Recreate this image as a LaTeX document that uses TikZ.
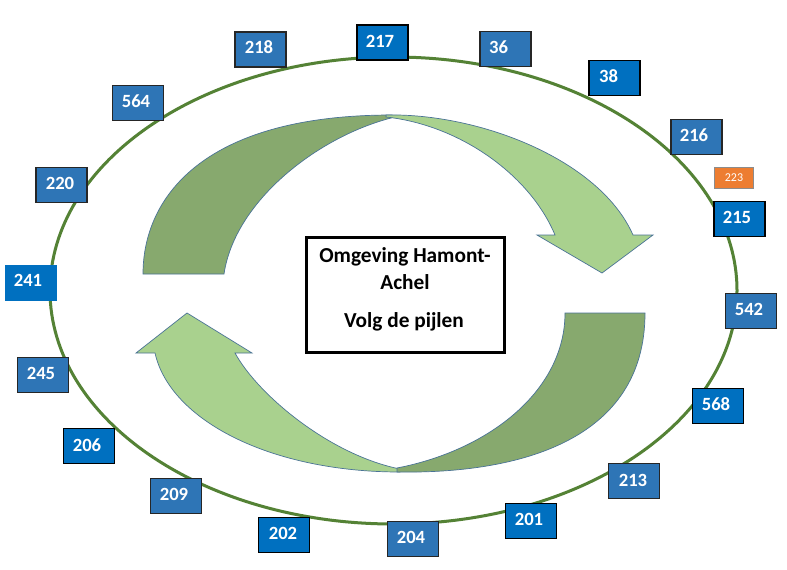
\documentclass[tikz,border=0pt]{standalone}
\usepackage{fontspec}
\setmainfont{Carlito}
\definecolor{ringgreen}{HTML}{548235}
\definecolor{boxa}{HTML}{2E75B6}
\definecolor{boxb}{HTML}{0070C0}
\definecolor{orng}{HTML}{ED7D31}
\definecolor{darkband}{HTML}{87A96E}
\definecolor{lightband}{HTML}{A9D18E}
\definecolor{bandline}{HTML}{4A7396}
\newcommand{\nbox}[7]{\node[#1, label={[numtxt, xshift=#6pt, yshift=#7pt]center:#5}] (#2) at (#3,#4) {};}
\begin{document}
\begin{tikzpicture}[x=1pt,y=-1pt,
  ring/.style={draw=ringgreen, line width=3pt},
  band/.style={draw=bandline, line width=0.7pt},
  boxA/.style={rectangle, fill=boxa, draw=black!85, line width=1.2pt, minimum width=51pt, minimum height=35pt, inner sep=0pt},
  boxB/.style={rectangle, fill=boxb, draw=black, line width=1.2pt, minimum width=51pt, minimum height=35pt, inner sep=0pt},
  boxC/.style={rectangle, fill=boxb, draw=none, minimum width=52pt, minimum height=36pt, inner sep=0pt},
  boxO/.style={rectangle, fill=orng, draw=black!45, line width=1pt, minimum width=39pt, minimum height=21pt, inner sep=0pt},
  numtxt/.style={text=white, font=\bfseries\fontsize{18.67}{20}\selectfont, inner sep=0pt},
  smalltxt/.style={text=white, font=\fontsize{12}{13}\selectfont, inner sep=0pt},
  centerbox/.style={rectangle, draw=black, line width=3pt, fill=white, minimum width=198pt, minimum height=115pt},
  ctxt/.style={font=\bfseries\fontsize{21.33}{26}\selectfont, anchor=base, inner sep=0pt}
]
\fill[white] (0,0) rectangle (787,570);
\useasboundingbox (0,0) rectangle (787,570);

% ring
\draw[ring] (393.5,290.5) ellipse [x radius=343.5pt, y radius=233.5pt];

% top arrow: dark part
\filldraw[band, fill=darkband] (143,274) .. controls (143,200) and (200,115) .. (392,115)
  -- (395,117) .. controls (320,135) and (235,200) .. (224,274) -- cycle;
% top arrow: light part with head
\filldraw[band, fill=lightband] (386,115) .. controls (480,113) and (600,160) .. (633,235)
  -- (653,235) -- (602,273) -- (537,235) -- (555,235)
  .. controls (530,175) and (460,125) .. (386,117) -- cycle;

% bottom arrow: light part with head
\filldraw[band, fill=lightband] (155,353) -- (136,353) -- (187,313) -- (252,353) -- (235,353)
  .. controls (258,395) and (330,455) .. (400,469)
  -- (400,472) .. controls (270,472) and (170,420) .. (155,353) -- cycle;
% bottom arrow: dark part
\filldraw[band, fill=darkband] (397,472) .. controls (520,474) and (645,440) .. (645,313)
  -- (565,313) .. controls (565,390) and (490,450) .. (397,468) -- cycle;

% centre box
\node[centerbox] (cbox) at (405.5,295) {};
\node[ctxt] (t1) at (405,262) {Omgeving Hamont-};
\node[ctxt] (t2) at (405,289) {Achel};
\node[ctxt] (t3) at (404,327) {Volg de pijlen};

% number boxes
\nbox{boxA}{n218}{260.5}{49.5}{218}{-1.5}{2.5}
\nbox{boxA}{n564}{138}{103}{564}{-2}{2}
\nbox{boxB}{n217}{382.5}{42.5}{217}{-2.5}{1.5}
\nbox{boxA}{n36}{505.5}{49}{36}{-7}{2}
\nbox{boxB}{n38}{614.5}{78}{38}{-6}{2}
\nbox{boxA}{n216}{696.5}{137}{216}{-2.5}{2}
\node[boxO, label={[smalltxt]center:223}] (n223) at (734,178) {};
\nbox{boxB}{n215}{739.5}{219}{215}{-2.5}{2}
\nbox{boxA}{n220}{61.5}{185}{220}{-1.5}{2}
\nbox{boxC}{n241}{30.5}{282.5}{241}{-2.5}{2.5}
\nbox{boxA}{n245}{43}{375}{245}{-2}{2}
\nbox{boxB}{n206}{89}{446}{206}{-2}{1}
\nbox{boxA}{n209}{176}{496}{209}{-2}{2}
\nbox{boxB}{n202}{284}{535}{202}{-1}{2}
\nbox{boxA}{n204}{413}{539}{204}{-2}{2}
\nbox{boxB}{n201}{531}{521}{201}{-2}{2}
\nbox{boxA}{n213}{634}{481}{213}{-1}{1}
\nbox{boxA}{n542}{751}{311}{542}{-2}{2}
\nbox{boxB}{n568}{718}{406}{568}{-2}{2}
\end{tikzpicture}
\end{document}
